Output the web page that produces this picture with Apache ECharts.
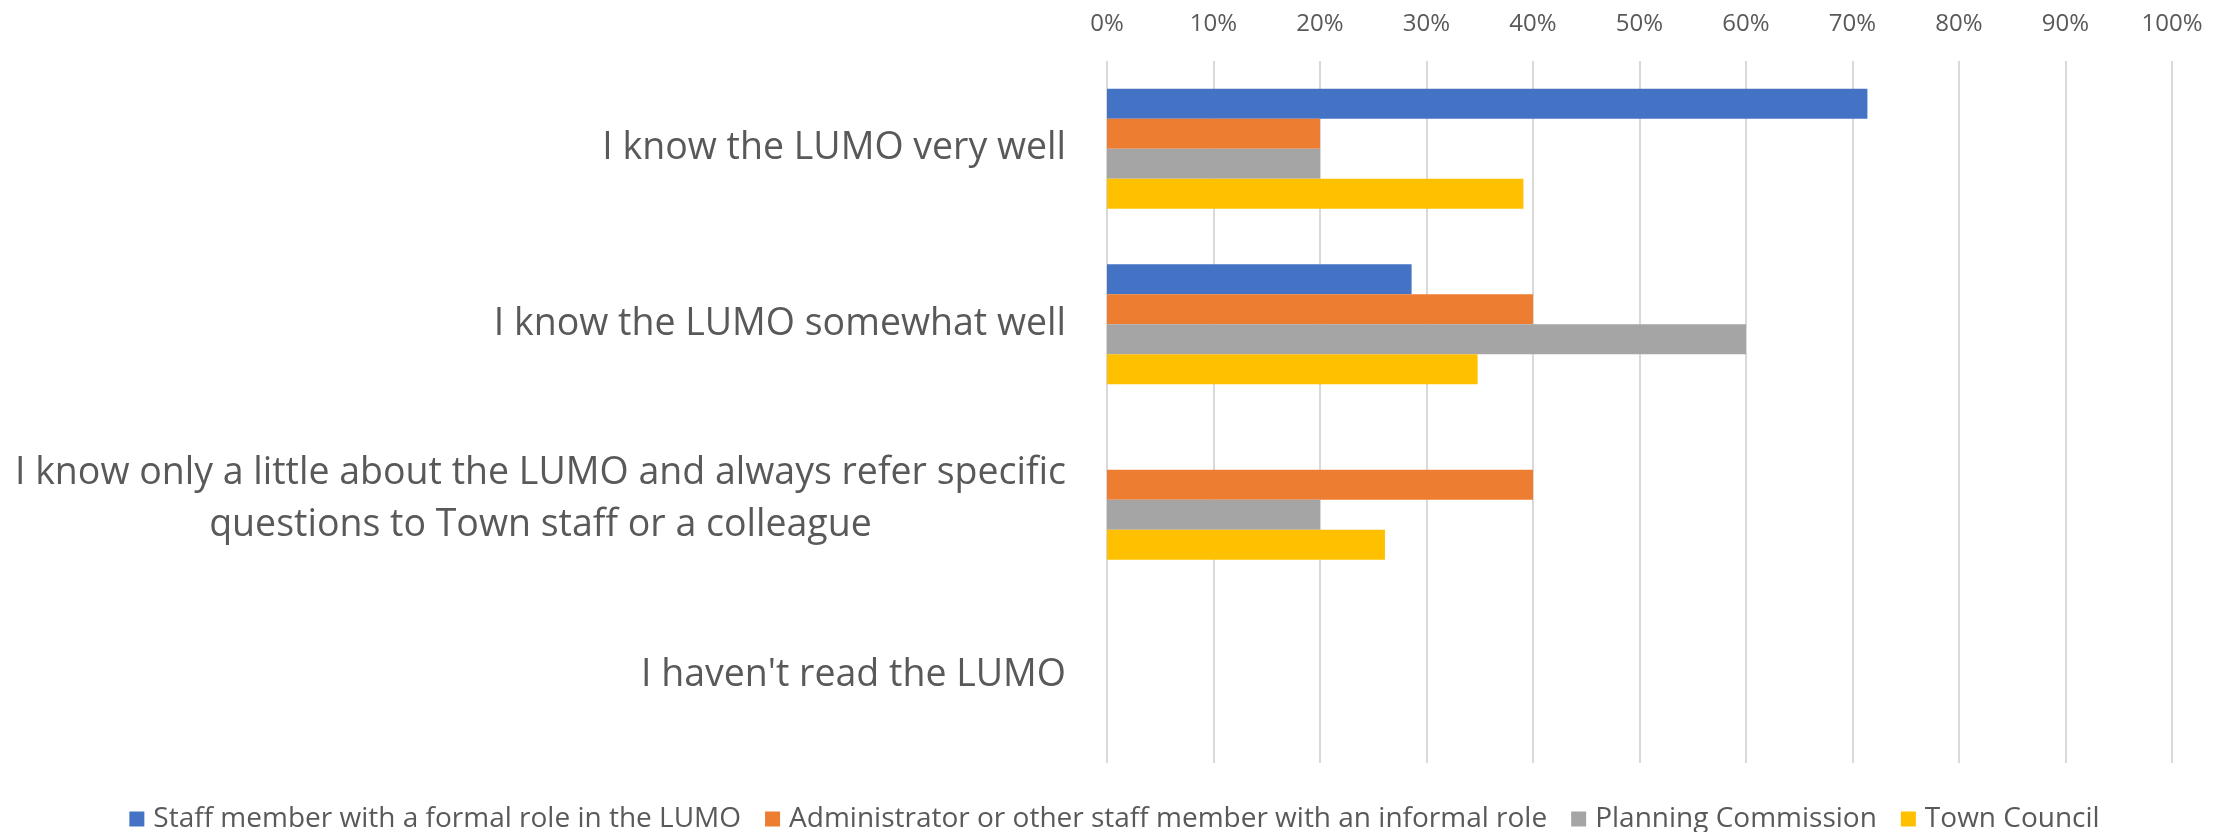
<!DOCTYPE html>
<html>
<head>
<meta charset="utf-8">
<style>
  html, body { margin: 0; padding: 0; background: #fff; }
  #lumo-chart { width: 2229px; height: 832px; }
</style>
<script src="https://cdn.jsdelivr.net/npm/echarts@6/dist/echarts.min.js"></script>
</head>
<body>
<div id="lumo-chart"></div>
<script>
// answers, top to bottom
var categories = [
  'I know the LUMO very well',
  'I know the LUMO somewhat well',
  'I know only a little about the LUMO and always refer specific\nquestions to Town staff or a colleague',
  "I haven't read the LUMO"
];

var staffFormal = [71.4, 28.6, 0, 0];
var adminInformal = [20, 40, 40, 0];
var planningCommission = [20, 60, 20, 0];
var townCouncil = [39.1, 34.8, 26.1, 0];

var tickLabels = ['0%', '10%', '20%', '30%', '40%', '50%', '60%', '70%', '80%', '90%', '100%'];

function drawLumoChart () {
  var myChart = echarts.init(document.getElementById('lumo-chart'));
  var textColor = '#595959';
  var font = '"Open Sans", sans-serif';

  function bar (name, data, color) {
    return {
      name: name,
      type: 'bar',
      data: data,
      barWidth: 30,
      barGap: '0%',
      itemStyle: { color: color }
    };
  }

  var option = {
    animation: false,
    textStyle: { fontFamily: font },
    grid: {
      left: 1107,
      right: 57,
      top: 61,
      bottom: 69
    },
    legend: {
      bottom: -6,
      left: 'center',
      itemWidth: 15,
      itemHeight: 15,
      itemGap: 24,
      icon: 'rect',
      textStyle: { color: textColor, fontSize: 28, fontFamily: font, padding: [0, 0, 0, 4] }
    },
    xAxis: {
      type: 'value',
      position: 'top',
      min: 0,
      max: 100,
      interval: 10,
      axisLine: { show: false },
      axisTick: { show: false },
      splitLine: { show: true, lineStyle: { color: '#D9D9D9', width: 2 } },
      axisLabel: {
        color: textColor,
        fontSize: 24,
        margin: 25,
        formatter: function (v) { return tickLabels[Math.round(v / 10)]; }
      }
    },
    yAxis: {
      type: 'category',
      inverse: true,
      data: categories,
      axisLine: { show: false },
      axisTick: { show: false },
      axisLabel: {
        color: textColor,
        margin: 41,
        align: 'right',
        formatter: function (v) { return '{c|' + v + '}'; },
        rich: {
          c: { fontSize: 37.5, lineHeight: 52, align: 'center', color: textColor, fontFamily: font }
        }
      }
    },
    series: [
      bar('Staff member with a formal role in the LUMO', staffFormal, '#4472C4'),
      bar('Administrator or other staff member with an informal role', adminInformal, '#ED7D31'),
      bar('Planning Commission', planningCommission, '#A5A5A5'),
      bar('Town Council', townCouncil, '#FFC000')
    ]
  };

  myChart.setOption(option);
}

drawLumoChart();
</script>
</body>
</html>
